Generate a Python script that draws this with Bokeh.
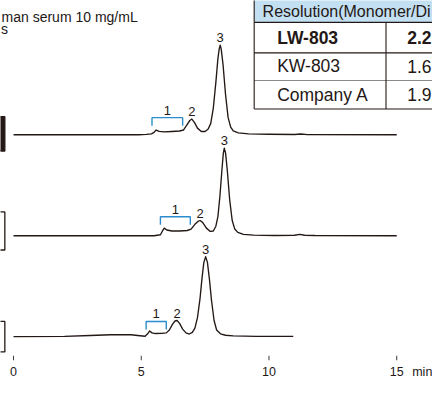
from bokeh.plotting import figure
from bokeh.models import Range1d, FixedTicker, ColumnDataSource
from bokeh.core.properties import value
from bokeh.embed import file_html
from bokeh.resources import INLINE

# ---------------- data ----------------
columns = ["LW-803", "KW-803", "Company A"]
resolution = ["2.2", "1.6", "1.9"]
header_text = "Resolution(Monomer/Di"
sample_text = "man serum 10 mg/mL"
sample_text2 = "s"
x_ticks = [0, 5, 10, 15]
x_unit = "min"
x_unit_pos = 16
peak_names = ["1", "2", "3"]

# LW-803 chromatogram: time (min), signal (relative)
t_lw = [0, 4.9, 5.2, 5.4, 5.5, 5.58, 5.7, 5.9, 6.2, 6.5, 6.65, 6.8, 6.9, 6.98, 7.08,
        7.2, 7.35, 7.5, 7.62, 7.72, 7.82, 7.92, 8.0, 8.05, 8.09, 8.13, 8.2, 8.3,
        8.4, 8.5, 8.6, 8.8, 9.2, 10.0, 11.0, 11.25, 11.5, 15.0]
s_lw = [0, 0, 0.5, 1, 2.5, 5, 3.5, 3, 3.5, 4, 5, 11, 15, 16.5, 13,
        7, 3.5, 3.5, 6, 12, 28, 55, 80, 90, 94, 90, 74, 42,
        18, 8, 4, 2, 1, 0.6, 0.3, 0.8, 0.2, 0]

# KW-803 chromatogram
t_kw = [0, 5.5, 5.75, 5.83, 5.9, 6.0, 6.2, 6.5, 6.8, 6.95, 7.1, 7.22, 7.3, 7.4,
        7.55, 7.7, 7.82, 7.92, 8.0, 8.08, 8.16, 8.21, 8.25, 8.3, 8.37, 8.46,
        8.56, 8.66, 8.78, 9.0, 9.4, 10.2, 11.0, 11.2, 11.4, 11.8, 15.0]
s_kw = [0, 0, 1, 5, 8, 6, 5, 5, 5.5, 7, 12, 15, 16, 14,
        8, 4.5, 5, 10, 20, 42, 70, 86, 92, 87, 68, 38,
        16, 7, 3.5, 1.5, 0.7, 0.3, 0.5, 1.5, 0.5, 0.2, 0]

# Company A chromatogram
t_ca = [0, 2.0, 3.0, 3.8, 4.6, 4.95, 5.15, 5.25, 5.33, 5.42, 5.55, 5.8, 5.98, 6.1,
        6.22, 6.32, 6.4, 6.5, 6.62, 6.75, 6.88, 7.0, 7.1, 7.2, 7.3, 7.38, 7.45,
        7.52, 7.59, 7.67, 7.75, 7.85, 7.95, 8.1, 8.3, 8.6, 9.5, 10.95]
s_ca = [0, 0.3, 1.2, 2, 2, 1, 0.5, 3, 6, 4, 3.3, 3.5, 4, 7,
        13, 16.5, 17, 14, 8, 4, 2.8, 4.5, 9, 20, 40, 62, 78,
        84, 78, 60, 38, 17, 7, 3, 1.5, 0.8, 0.4, 0.3]

# peak annotations: aggregate range (peak 1), dimer (2), monomer (3)
agg_start = [5.42, 5.75, 5.19]
agg_end = [6.62, 6.92, 5.98]
agg_level = [18, 20, 16]
dimer_t = [6.98, 7.3, 6.4]
monomer_t = [8.09, 8.25, 7.52]

# ---------------- layout / style ----------------
INK = "#231815"
BLUE = "#2b8ccd"
FONT = "Liberation Sans"
baselines = [232, 126, 20]          # vertical offset of each trace
box_spans = [(215, 251), (111, 151), (4, 36)]
box_fill = [INK, "white", "white"]
box_right = -0.34

p = figure(width=432, height=381, output_backend="svg", toolbar_location=None,
           x_range=Range1d(-0.51, 16.40), y_range=Range1d(-5, 373),
           y_axis_location=None, min_border=0, min_border_left=0,
           min_border_right=0, min_border_top=0, min_border_bottom=0)
p.outline_line_color = None
p.xgrid.visible = False
p.ygrid.visible = False
p.background_fill_color = "white"
p.border_fill_color = "white"

# x axis: labels from the axis, tick marks drawn in the frame
ax = p.xaxis[0]
ax.ticker = FixedTicker(ticks=x_ticks + [x_unit_pos])
ax.major_label_overrides = {x_unit_pos: x_unit}
ax.axis_line_color = None
ax.major_tick_in = 0
ax.major_tick_out = 0
ax.major_tick_line_color = None
ax.minor_tick_line_color = None
ax.major_label_standoff = 4
ax.major_label_text_font = FONT
ax.major_label_text_font_size = "12.5px"
ax.major_label_text_color = INK

p.segment(x0=x_ticks, x1=x_ticks, y0=[0] * len(x_ticks), y1=[-5] * len(x_ticks),
          line_color="#3c3c3c", line_width=1)

traces = [(t_lw, s_lw), (t_kw, s_kw), (t_ca, s_ca)]
for i, (tt, ss) in enumerate(traces):
    b = baselines[i]
    p.line(tt, [v + b for v in ss], line_color=INK,
           line_width=1.35, line_join="round")
    # bracket for aggregates
    lv = agg_level[i] + b
    xs = [agg_start[i], agg_start[i], agg_end[i], agg_end[i]]
    ys = [lv - 8.5, lv, lv, lv - 8.5]
    p.line(xs, ys, line_color=BLUE, line_width=1.4)
    # labels
    h2 = ss[tt.index(dimer_t[i])]
    h3 = ss[tt.index(monomer_t[i])]
    src = ColumnDataSource(dict(
        x=[(agg_start[i] + agg_end[i]) / 2, dimer_t[i], monomer_t[i]],
        y=[lv, h2 + b, h3 + b],
        t=peak_names))
    p.text(x="x", y="y", text="t", source=src, text_font=value(FONT),
           text_font_size="13px", text_color=INK, text_align="center",
           text_baseline="bottom", y_offset=-3)
    # cropped label box at left edge
    bb, bt = box_spans[i]
    p.quad(left=-1, right=box_right, bottom=bb, top=bt, fill_color=box_fill[i],
           line_color=INK, line_width=1.3)

# sample description text
p.text(x=[-0.47], y=[356], text=[sample_text], text_font=value(FONT),
       text_font_size="14px", text_color=INK, text_align="left",
       text_baseline="middle")
p.text(x=[-0.49], y=[343], text=[sample_text2], text_font=value(FONT),
       text_font_size="14px", text_color=INK, text_align="left",
       text_baseline="middle")

# resolution table (cropped at top right)
t_left, t_div, t_right = 9.42, 14.58, 17.5
row_edges = [350, 318, 289, 259]
p.quad(left=t_left, right=t_right, bottom=row_edges[0], top=380,
       fill_color="#c3dff2", line_color=None)
p.quad(left=t_left, right=t_right, bottom=row_edges[-1], top=row_edges[0],
       fill_color="white", line_color=None)
p.segment(x0=[t_left] * 4, x1=[t_right] * 4, y0=row_edges, y1=row_edges,
          line_color=[INK, INK, "#8a8a8a", INK], line_width=1.1)
p.segment(x0=[t_left, t_div], x1=[t_left, t_div], y0=[380, row_edges[0]],
          y1=[row_edges[-1], row_edges[-1]], line_color=INK, line_width=1.1)

p.text(x=[9.75], y=[361], text=[header_text], text_font=value(FONT),
       text_font_size="16px", text_color=INK, text_baseline="middle")
row_y = [334, 304, 274]
p.text(x=[10.32] * 3, y=row_y, text=columns, text_font=value(FONT),
       text_font_size="17.5px", text_color=INK, text_baseline="middle",
       text_font_style=["bold", "normal", "normal"])
p.text(x=[16.36] * 3, y=row_y, text=resolution, text_font=value(FONT),
       text_font_size="17.5px", text_color=INK, text_baseline="middle",
       text_align="right", text_font_style=["bold", "normal", "normal"])

open("out.html", "w").write(file_html(p, INLINE))
